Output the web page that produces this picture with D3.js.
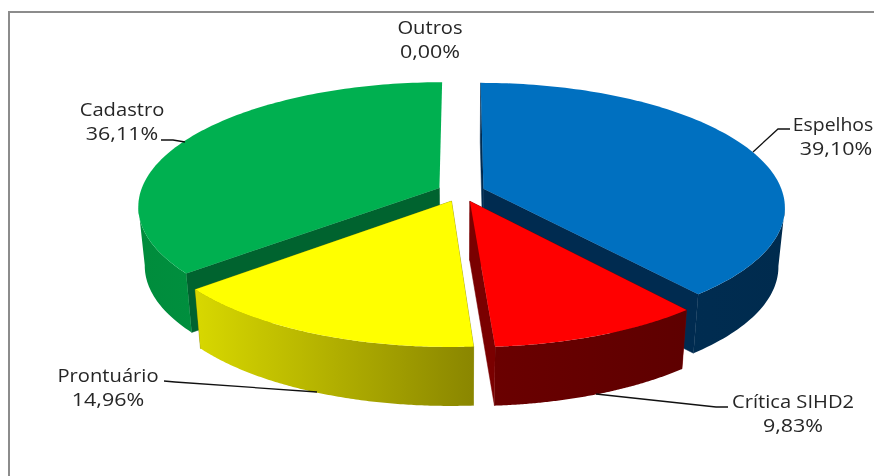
<!DOCTYPE html>
<html>
<head>
<meta charset="utf-8">
<script src="https://cdn.jsdelivr.net/npm/d3@7/dist/d3.min.js"></script>
<style>
  html, body { margin: 0; padding: 0; background: #fff; overflow: hidden; }
  text { font-family: "Open Sans", sans-serif; font-size: 18.5px; fill: #262626; }
</style>
</head>
<body>
<div id="chart"></div>
<script>
const categories = ["Espelhos", "Crítica SIHD2", "Prontuário", "Cadastro", "Outros"];
const shares = [39.10, 9.83, 14.96, 36.11, 0.00];
const shareLabels = ["39,10%", "9,83%", "14,96%", "36,11%", "0,00%"];

const topColors = ["#0070c0", "#ff0000", "#ffff00", "#00b050", "#7f7f7f"];
const cutColors = ["#002b50", "#7a0000", "#8a8800", "#00632f", "#444444"];
const wallFrom = ["#002f56", "#6a0000", "#d8d800", "#008c3c", "#666666"];
const wallTo = ["#002b4e", "#5e0000", "#8a8600", "#009c46", "#666666"];

// back to front
const paintOrder = ["Cadastro", "Espelhos", "Prontuário", "Crítica SIHD2"];

const width = 874, height = 476;

// tilted disc: model coords x right, y towards viewer, radius 1
const cx = 461, cy = 192;
const scaleX = 299, scaleY = 122, persp = 0.144;
const explode = 0.08;
const depth = 59, bottomShrink = 0.98;

// original text is stretched sideways, digits more than letters
const nameStretch = 1.09, shareStretch = 1.16;

const labelPos = {
  "Espelhos": { x: 833, shareX: 836, y: 131, stretch: 1.05, leader: [[790, 129], [778, 129], [753, 152]] },
  "Crítica SIHD2": { x: 793, y: 408, leader: [[728, 407], [716, 407], [596, 394]] },
  "Prontuário": { x: 108, y: 382, leader: [[164, 381], [175, 382], [317, 392]] },
  "Cadastro": { x: 122, y: 116, leader: [[161, 140], [173, 140], [185, 142]] },
  "Outros": { x: 430, y: 34, leader: null }
};

function project(mx, my) {
  const w = 1 / (1 - persp * my);
  return [cx + scaleX * mx * w, cy + scaleY * my * w];
}

function dropToBottom(p) {
  return [cx + (p[0] - cx) * bottomShrink, p[1] + depth];
}

const pie = d3.pie().sort(null).value(d => d.share);
const slices = pie(categories.map((name, i) => ({ name, i, share: shares[i] })));

const svg = d3.select("#chart").append("svg")
  .attr("width", width)
  .attr("height", height);

const defs = svg.append("defs");
const line = d3.line();

defs.append("filter").attr("id", "soft")
  .append("feGaussianBlur").attr("stdDeviation", 0.35);

// frame, runs off the right and bottom of the picture
svg.append("path")
  .attr("d", line([[9, height], [9, 12], [width, 12]]))
  .attr("fill", "none")
  .attr("stroke", "#8c8c8c")
  .attr("stroke-width", 2);

function slicePoints(s) {
  const mid = (s.startAngle + s.endAngle) / 2;
  const ox = explode * Math.sin(mid);
  const oy = -explode * Math.cos(mid);
  const at = (a, r) => project(ox + r * Math.sin(a), oy - r * Math.cos(a));
  const arc = d3.range(0, 121).map(k => at(s.startAngle + (s.endAngle - s.startAngle) * k / 120, 1));
  return { apex: at(0, 0), arc };
}

// part of the arc in front of the widest point, the only part whose wall shows
function frontArc(arc, s) {
  const right = s.startAngle + s.endAngle < 2 * Math.PI;
  const widest = right ? d3.greatest(arc, p => p[0]) : d3.least(arc, p => p[0]);
  return arc.filter(p => p[1] >= widest[1]);
}

paintOrder.forEach(name => {
  const s = slices.find(d => d.data.name === name);
  if (s.endAngle - s.startAngle <= 0) return;
  const i = s.data.i;
  const { apex, arc } = slicePoints(s);

  const [x0, x1] = d3.extent(arc, p => p[0]);
  const gradId = `wall-${i}`;
  const grad = defs.append("linearGradient")
    .attr("id", gradId)
    .attr("gradientUnits", "userSpaceOnUse")
    .attr("x1", x0).attr("x2", x1)
    .attr("y1", 0).attr("y2", 0);
  grad.append("stop").attr("offset", "0%").attr("stop-color", wallFrom[i]);
  grad.append("stop").attr("offset", "100%").attr("stop-color", wallTo[i]);

  const g = svg.append("g").attr("class", "slice");

  // cut faces, the parts that show stick out below the top surface
  // (the face closing the circle at 12 o'clock is edge-on, no sliver there)
  const edges = s.endAngle >= 2 * Math.PI - 1e-6 ? [arc[0]] : [arc[0], arc[arc.length - 1]];
  edges.forEach(edge => {
    const face = [apex, edge, dropToBottom(edge), dropToBottom(apex)];
    g.append("path")
      .attr("d", line(face) + "Z")
      .attr("fill", cutColors[i])
      .attr("stroke", cutColors[i])
      .attr("stroke-width", 0.5);
  });

  // outer wall
  const front = frontArc(arc, s);
  g.append("path")
    .attr("d", line(front.concat(front.map(dropToBottom).reverse())) + "Z")
    .attr("fill", `url(#${gradId})`);

  // top surface
  g.append("path")
    .attr("d", line([apex].concat(arc)) + "Z")
    .attr("fill", topColors[i]);
});

function addLabel(text, x, y, stretch) {
  svg.append("text")
    .attr("transform", `translate(${x},${y}) scale(${stretch},1)`)
    .attr("text-anchor", "middle")
    .attr("filter", "url(#soft)")
    .text(text);
}

// labels and leader lines
categories.forEach((name, i) => {
  const pos = labelPos[name];
  if (pos.leader) {
    svg.append("path")
      .attr("d", line(pos.leader))
      .attr("fill", "none")
      .attr("stroke", "#111")
      .attr("stroke-width", 1.3);
  }
  addLabel(name, pos.x, pos.y, pos.stretch || nameStretch);
  addLabel(shareLabels[i], pos.shareX || pos.x, pos.y + 24, shareStretch);
});
</script>
</body>
</html>
